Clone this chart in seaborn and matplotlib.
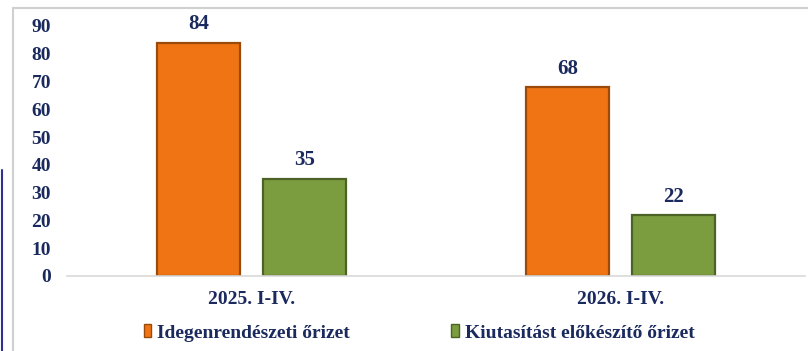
import matplotlib
matplotlib.use("Agg")
import matplotlib.pyplot as plt
from matplotlib.patches import Rectangle
from matplotlib.lines import Line2D
import pandas as pd
import seaborn as sns

periods = ["2025. I-IV.", "2026. I-IV."]
series_names = ["Idegenrendészeti őrizet", "Kiutasítást előkészítő őrizet"]
idegen = [84, 68]
kiutasitas = [35, 22]
y_ticks = [0, 10, 20, 30, 40, 50, 60, 70, 80, 90]

df = pd.DataFrame({
    "period": periods * 2,
    "series": [series_names[0]] * 2 + [series_names[1]] * 2,
    "value": idegen + kiutasitas,
})

sns.set_theme(style="white")
plt.rcParams["font.family"] = ["Liberation Serif", "DejaVu Serif"]
plt.rcParams["font.weight"] = "bold"

navy = "#1B2A5E"
fills = ["#F07414", "#7C9C40"]
edges = ["#9A4A0A", "#4C6226"]

fig = plt.figure(figsize=(8.08, 3.51), dpi=100)
ax = fig.add_axes([67 / 808, 1 - 276 / 351, 738 / 808, 250 / 351])

sns.barplot(data=df, x="period", y="value", hue="series", order=periods,
            hue_order=series_names, palette=fills, width=0.57, gap=0.21,
            ax=ax, legend=False, saturation=1)

for container, ec in zip(ax.containers, edges):
    for bar in container:
        bar.set_edgecolor(ec)
        bar.set_linewidth(1.6)
    ax.bar_label(container, padding=6, fontsize=15, fontweight="bold",
                 color=navy, clip_on=False)

ax.set_ylim(0, 90)
ax.set_yticks(y_ticks)
ax.set_xlim(-0.5, 1.5)
ax.set_xlabel("")
ax.set_ylabel("")
for s in ["top", "right", "left"]:
    ax.spines[s].set_visible(False)
ax.spines["bottom"].set_color("#D9D9D9")
ax.spines["bottom"].set_linewidth(1.2)
ax.tick_params(axis="both", length=0, labelsize=14, labelcolor=navy)
ax.tick_params(axis="y", pad=11.5)
ax.tick_params(axis="x", pad=11)
for lab in ax.get_xticklabels() + ax.get_yticklabels():
    lab.set_fontweight("bold")
ax.patch.set_alpha(0)

handles = [Rectangle((0, 0), 1, 1, facecolor=f, edgecolor=e, linewidth=1)
           for f, e in zip(fills, edges)]
leg = fig.legend(handles, series_names, loc="center",
                 bbox_to_anchor=(419 / 808, 1 - 333 / 351),
                 ncol=2, frameon=False, fontsize=14, handlelength=0.4,
                 handleheight=0.6, handletextpad=0.3, columnspacing=5.2)
for t in leg.get_texts():
    t.set_color(navy)
    t.set_fontweight("bold")

# chart frame and left rule
fig.patches.append(Rectangle((13 / 808, -0.01), 800 / 808, 1 - 8 / 351 + 0.01,
                             transform=fig.transFigure, fill=False,
                             edgecolor="#D0D0D0", linewidth=1.5))
fig.lines.append(Line2D([2 / 808, 2 / 808], [0, 1 - 170 / 351],
                        transform=fig.transFigure, color="#2E3192", linewidth=1.5))

fig.savefig("out.png", dpi=100)
